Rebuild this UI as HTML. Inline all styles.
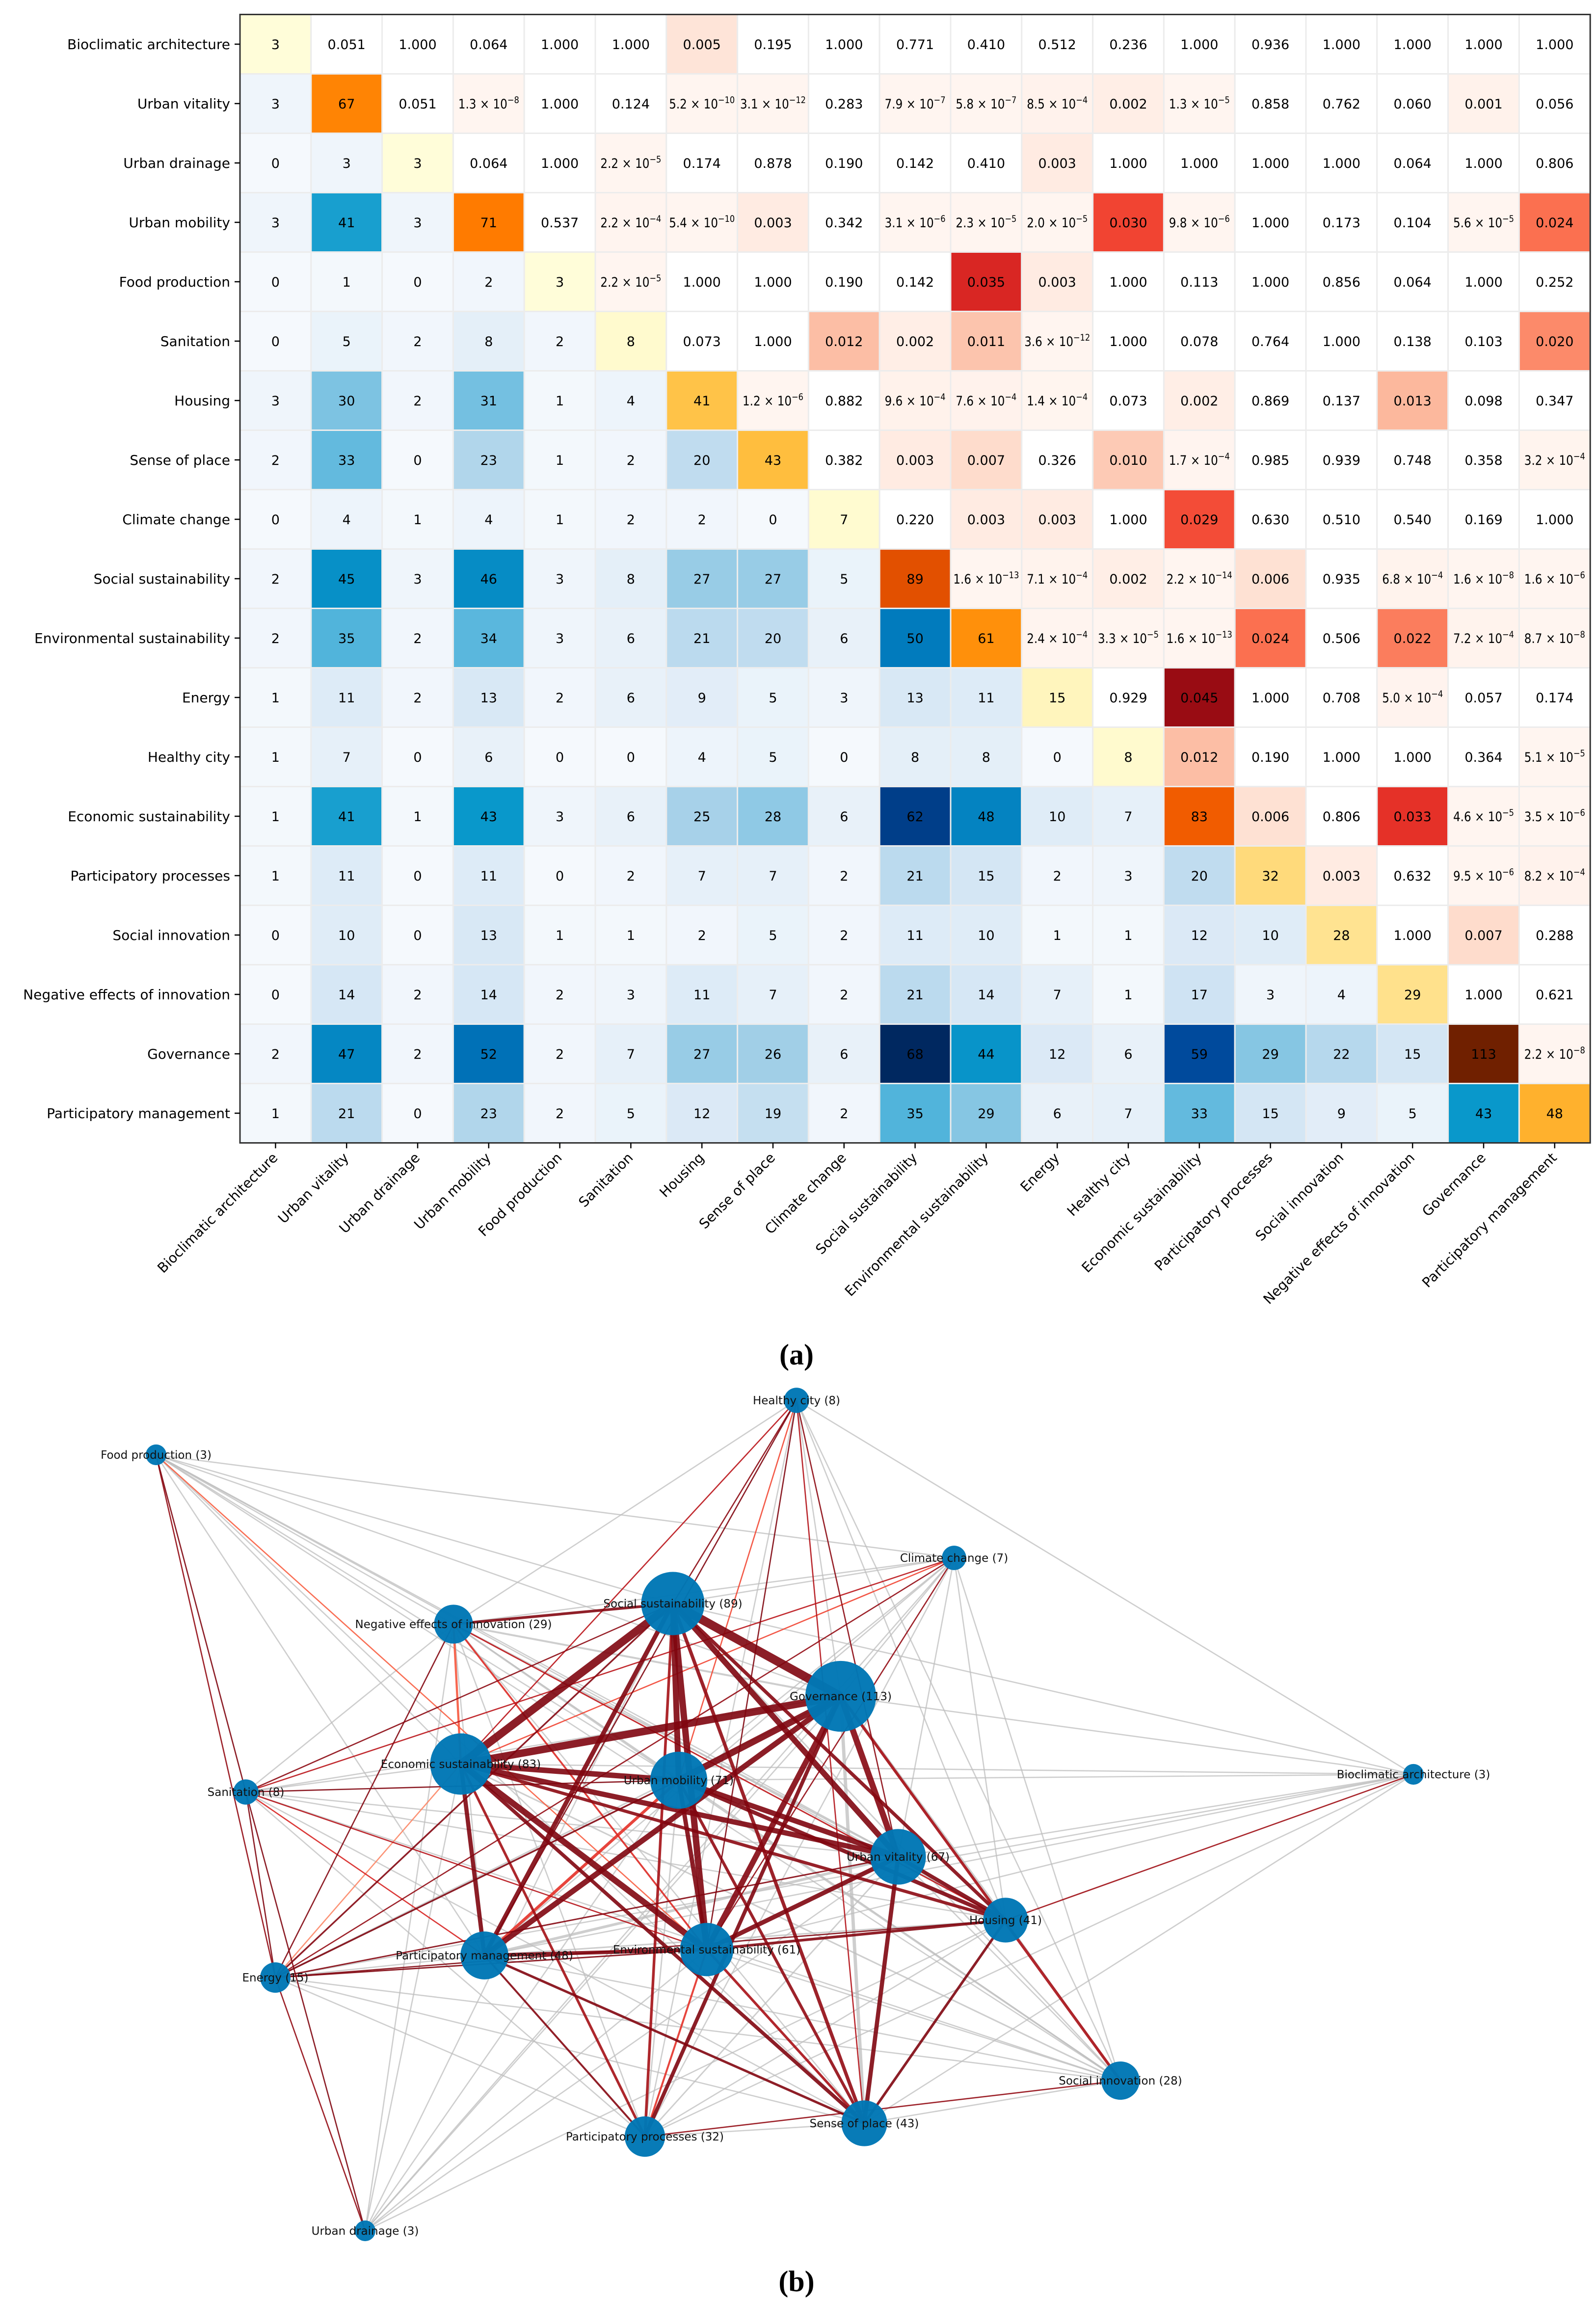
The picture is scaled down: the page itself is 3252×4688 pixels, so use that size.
<!DOCTYPE html>
<html><head><meta charset="utf-8"><style>
html,body{margin:0;padding:0;background:#fff}
svg{display:block}
text{font-family:"DejaVu Sans","Liberation Sans",sans-serif}
</style></head><body>
<svg id="fig" xmlns="http://www.w3.org/2000/svg" width="3252" height="4688" viewBox="0 0 3252 4688">
<rect width="3252" height="4688" fill="#fff"/>
<g id="heat"></g>
<text x="1623" y="2780" text-anchor="middle" font-size="60" style="font-family:'Liberation Serif',serif" font-weight="bold">(a)</text>
<g id="net"></g>
<text x="1623" y="4668" text-anchor="middle" font-size="60" style="font-family:'Liberation Serif',serif" font-weight="bold">(b)</text>
</svg>
<script>
const labels=["Bioclimatic architecture","Urban vitality","Urban drainage","Urban mobility","Food production","Sanitation","Housing","Sense of place","Climate change","Social sustainability","Environmental sustainability","Energy","Healthy city","Economic sustainability","Participatory processes","Social innovation","Negative effects of innovation","Governance","Participatory management"];
// lower triangle counts incl. diagonal: counts[i][j], j<=i
const counts=[
[3],
[3,67],
[0,3,3],
[3,41,3,71],
[0,1,0,2,3],
[0,5,2,8,2,8],
[3,30,2,31,1,4,41],
[2,33,0,23,1,2,20,43],
[0,4,1,4,1,2,2,0,7],
[2,45,3,46,3,8,27,27,5,89],
[2,35,2,34,3,6,21,20,6,50,61],
[1,11,2,13,2,6,9,5,3,13,11,15],
[1,7,0,6,0,0,4,5,0,8,8,0,8],
[1,41,1,43,3,6,25,28,6,62,48,10,7,83],
[1,11,0,11,0,2,7,7,2,21,15,2,3,20,32],
[0,10,0,13,1,1,2,5,2,11,10,1,1,12,10,28],
[0,14,2,14,2,3,11,7,2,21,14,7,1,17,3,4,29],
[2,47,2,52,2,7,27,26,6,68,44,12,6,59,29,22,15,113],
[1,21,0,23,2,5,12,19,2,35,29,6,7,33,15,9,5,43,48]];
// upper triangle p-values: pvals[i][k] is column i+1+k
const pvals=[
[0.051,1.000,0.064,1.000,1.000,0.005,0.195,1.000,0.771,0.410,0.512,0.236,1.000,0.936,1.000,1.000,1.000,1.000],
[0.051,1.3e-8,1.000,0.124,5.2e-10,3.1e-12,0.283,7.9e-7,5.8e-7,8.5e-4,0.002,1.3e-5,0.858,0.762,0.060,0.001,0.056],
[0.064,1.000,2.2e-5,0.174,0.878,0.190,0.142,0.410,0.003,1.000,1.000,1.000,1.000,0.064,1.000,0.806],
[0.537,2.2e-4,5.4e-10,0.003,0.342,3.1e-6,2.3e-5,2.0e-5,0.030,9.8e-6,1.000,0.173,0.104,5.6e-5,0.024],
[2.2e-5,1.000,1.000,0.190,0.142,0.035,0.003,1.000,0.113,1.000,0.856,0.064,1.000,0.252],
[0.073,1.000,0.012,0.002,0.011,3.6e-12,1.000,0.078,0.764,1.000,0.138,0.103,0.020],
[1.2e-6,0.882,9.6e-4,7.6e-4,1.4e-4,0.073,0.002,0.869,0.137,0.013,0.098,0.347],
[0.382,0.003,0.007,0.326,0.010,1.7e-4,0.985,0.939,0.748,0.358,3.2e-4],
[0.220,0.003,0.003,1.000,0.029,0.630,0.510,0.540,0.169,1.000],
[1.6e-13,7.1e-4,0.002,2.2e-14,0.006,0.935,6.8e-4,1.6e-8,1.6e-6],
[2.4e-4,3.3e-5,1.6e-13,0.024,0.506,0.022,7.2e-4,8.7e-8],
[0.929,0.045,1.000,0.708,5.0e-4,0.057,0.174],
[0.012,0.190,1.000,1.000,0.364,5.1e-5],
[0.006,0.806,0.033,4.6e-5,3.5e-6],
[0.003,0.632,9.5e-6,8.2e-4],
[1.000,0.007,0.288],
[1.000,0.621],
[2.2e-8],
[]];
// network layout (abstract layout units)
const nodeX=[960,610,248,461,106,167,683,587,648,457,480,187,541,313,438,761,308,571,329];
const nodeY=[1205,1261,1515,1209,988,1217,1304,1442,1058,1089,1324,1343,951,1198,1451,1413,1103,1152,1328];

const NS="http://www.w3.org/2000/svg";
function mk(tag,attrs,parent){const e=document.createElementNS(NS,tag);for(const k in attrs)e.setAttribute(k,attrs[k]);parent.appendChild(e);return e;}
function hex(c){return [parseInt(c.substr(1,2),16),parseInt(c.substr(3,2),16),parseInt(c.substr(5,2),16)];}
function cmap(stops,t){t=Math.max(0,Math.min(1,t));const n=stops.length-1;const f=t*n;const i=Math.min(n-1,Math.floor(f));const r=f-i;const a=hex(stops[i]),b=hex(stops[i+1]);return "rgb("+a.map((v,k)=>Math.round(v+(b[k]-v)*r)).join(",")+")";}
const REDS=["#fff5f0","#fee0d2","#fcbba1","#fc9272","#fb6a4a","#ef3b2c","#cb181d","#a50f15","#67000d"];
// diagonal colour ramp (stops every 1/8 of range)
const DIAG=["#ffffe0","#fff6c0","#ffe390","#ffc040","#ff9a10","#ff7c00","#ef5800","#c43e00","#702000"];
const BLUES=["#f5f9fd","#e3eef8","#cfe3f3","#a5d0e8","#5ab7dd","#0a9acc","#0077bb","#00479a","#002860"];
function getP(i,j){return pvals[i][j-i-1];}

// ---- heatmap ----
const N=labels.length;
const gx0=489,gy0=29.5,cw=144.8,ch=121;
const X=j=>gx0+j*cw, Y=i=>gy0+i*ch;
const heat=document.getElementById('heat');
const maxCount=68,maxDiag=113;
function fmtP(p){
  if(p>=0.001) return {m:p.toFixed(3),e:null};
  const e=Math.floor(Math.log10(p)+1e-9);let m=p/Math.pow(10,e);
  return {m:m.toFixed(1)+" \u00d7 10",e:"\u2212"+(-e)};
}
for(let i=0;i<N;i++){
  for(let j=0;j<N;j++){
    let fill,txt;
    if(j<i){const v=counts[i][j];fill=cmap(BLUES,v/maxCount);txt={m:String(v),e:null};}
    else if(j===i){const v=counts[i][i];fill=cmap(DIAG,v/maxDiag);txt={m:String(v),e:null};}
    else{const p=getP(i,j);fill=p<0.05?cmap(REDS,p/0.05):"#ffffff";txt=fmtP(p);}
    const r=mk('rect',{x:X(j),y:Y(i),width:cw,height:ch,fill:fill,stroke:"#ececec","stroke-width":3},heat);
    
    
    const t=mk('text',{x:X(j)+cw/2,y:Y(i)+ch/2+10,"text-anchor":"middle","font-size":27,fill:"#000"},heat);
    
    
    t.textContent=txt.m;
    if(txt.e){
      const s=mk('tspan',{dy:-11,"font-size":19},t);s.textContent=txt.e;
      const L=txt.e.length>=3?134:124;
      t.setAttribute('textLength',L);
      t.setAttribute('lengthAdjust','spacingAndGlyphs');
    }
  }
}
const frame=mk('rect',{x:gx0,y:gy0,width:cw*N,height:ch*N,fill:"none",stroke:"#333","stroke-width":3},heat);


for(let i=0;i<N;i++){
  mk('line',{x1:gx0-11,x2:gx0,y1:Y(i)+ch/2,y2:Y(i)+ch/2,stroke:"#000","stroke-width":2.5},heat);
  const t=mk('text',{x:gx0-20,y:Y(i)+ch/2+10,"text-anchor":"end","font-size":28},heat);
  
  
  t.textContent=labels[i];
  const bx=X(i)+cw/2,by=gy0+ch*N;
  mk('line',{x1:bx,x2:bx,y1:by,y2:by+11,stroke:"#000","stroke-width":2.5},heat);
  const tx=mk('text',{x:bx+6,y:by+32,"text-anchor":"end","font-size":28,transform:"rotate(-45 "+(bx+6)+" "+(by+32)+")"},heat);
  
  
  tx.textContent=labels[i];
}

// ---- network ----
const net=document.getElementById('net');
const sx=v=>v*3, sy=v=>v*3;
const edges=[];
for(let i=0;i<N;i++)for(let j=0;j<i;j++){const c=counts[i][j];if(c>0)edges.push({a:j,b:i,c:c,p:getP(j,i)});}
edges.sort((u,v)=>(u.p<0.05)-(v.p<0.05) || v.p-u.p);
for(const e of edges){
  const sig=e.p<0.05;
  const col=sig?cmap(REDS,0.35+0.6*(1-e.p/0.05)):"#bdbdbd";
  const w=Math.max(2.6,e.c*0.26);
  const l=mk('line',{x1:sx(nodeX[e.a]),y1:sy(nodeY[e.a]),x2:sx(nodeX[e.b]),y2:sy(nodeY[e.b]),stroke:col,"stroke-width":w,"stroke-opacity":sig?0.9:0.75},net);
  
  
}
for(let i=0;i<N;i++){
  const n=counts[i][i];
  const r=3*Math.sqrt(35+4.8*n);
  const c=mk('circle',{cx:sx(nodeX[i]),cy:sy(nodeY[i]),r:r,fill:"#0077b5","fill-opacity":0.97},net);
  
  
}
for(let i=0;i<N;i++){
  const t=mk('text',{x:sx(nodeX[i]),y:sy(nodeY[i])+8,"text-anchor":"middle","font-size":23,fill:"#111"},net);
  
  
  t.textContent=labels[i]+" ("+counts[i][i]+")";
}
</script>
</body></html>
